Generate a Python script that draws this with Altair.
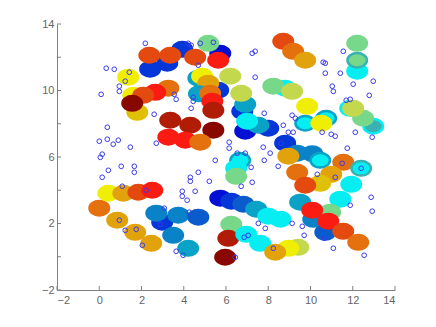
import altair as alt
import pandas as pd

# ---- large coloured markers (drawn back to front) ----
big_x = [2.41, 3.22, 3.93, 2.37, 3.36, 5.73, 4.54, 5.16, 5.63, 5.63, 4.69, 4.87, 6.20, 5.16, 3.27, 4.72,
         5.25, 5.35, 5.40, 1.37, 1.61, 1.80, 2.65, 2.08, 1.56, 3.36, 4.31, 5.40, 3.27, 4.07, 4.78,
         8.71, 9.18, 9.75, 8.80, 8.24, 9.13, 9.84, 9.75, 10.74, 10.51, 6.91, 6.77, 6.91, 6.72, 8.00,
         7.53, 7.00, 8.80, 9.37,
         12.21, 12.21, 12.21, 11.88, 12.97, 12.49, 12.02,
         0.00, 0.85, 1.70, 2.46, 0.43, 1.14, 1.85, 2.51,
         2.98, 2.70, 3.74, 4.69, 3.50, 4.21, 5.73, 6.25, 6.82, 7.43, 8.00, 8.57, 6.25, 6.11, 5.96,
         6.67, 6.48, 6.48, 6.96, 7.62, 9.42, 8.95, 8.33,
         10.08, 10.46, 11.55, 12.40, 8.95, 9.37, 10.98, 10.46, 9.75, 11.93, 11.41, 9.51, 10.13,
         10.93, 10.70, 10.08, 10.84, 11.55, 12.26]
big_y = [11.28, 11.64, 12.48, 12.12, 12.12, 12.24, 12.00, 12.84, 11.82, 10.02, 10.74, 10.86, 10.86, 10.44, 10.14, 9.80,
         9.83, 9.35, 8.81, 10.80, 9.71, 8.69, 9.89, 9.71, 9.23, 8.21, 7.91, 7.61, 7.19, 7.01, 6.89,
         12.96, 12.36, 11.82, 10.14, 10.26, 9.95, 9.05, 8.03, 8.33, 8.03, 7.55, 8.75, 9.17, 9.83, 7.73,
         7.91, 8.15, 6.83, 6.23,
         12.84, 11.16, 11.82, 8.93, 7.85, 8.33, 8.93,
         2.92, 2.20, 1.47, 0.81, 3.82, 3.82, 3.88, 4.00,
         2.08, 2.62, 2.50, 2.38, 1.29, 0.51, 3.52, 3.34, 3.16, 2.86, 2.44, 2.26, 1.95, 1.11, -0.03,
         5.80, 5.32, 4.84, 1.35, 0.81, 0.57, 0.51, 0.27,
         6.20, 5.80, 5.68, 5.32, 6.05, 5.08, 4.96, 4.42, 4.30, 4.36, 3.46, 3.28, 2.25,
         2.68, 1.47, 2.80, 2.14, 1.53, 0.87]
big_color = ["blue", "blue", "blue", "orangered", "orangered", "darkblue", "orangered", "green", "red", "blue",
             "teal", "yellow", "yellowgreen", "gold", "orange", "teal", "orange", "red", "darkred2", "yellow",
             "yellow", "gold2", "red", "orangered", "darkred", "darkred2", "darkred2", "darkred", "red", "red",
             "orange",
             "orangered", "orange", "gold", "cyan", "green", "yellowgreen", "yellow", "cyan", "cyan", "yellow",
             "darkblue", "blue", "teal", "yellowgreen", "blue", "teal", "cyan", "blue", "tealblue",
             "green", "cyan", "green", "cyan", "teal2", "green", "yellowgreen",
             "orange", "gold", "gold", "gold", "yellow", "gold", "orangered", "red",
             "blue", "tealblue", "tealblue", "blue2", "tealblue", "teal", "darkblue", "blue", "blue2", "teal",
             "cyan", "cyan", "green", "darkred2", "darkred",
             "cyan", "cyan", "green", "cyan", "cyan", "yellowgreen", "yellow", "gold",
             "tealblue", "cyan", "orange", "cyan", "gold", "orange", "gold", "gold2", "orangered", "cyan",
             "cyan", "teal", "tealblue", "green", "blue2", "red", "red", "orangered", "orange"]
# ring (edge) colour where it differs from the fill
big_edge = {38: "teal", 39: "teal", 52: "teal2", 54: "cyan", 80: "teal", 89: "teal", 91: "teal2"}

# ---- small open blue circles ----
small_x = [2.18, 4.21, 4.35, 4.78, 5.40, 4.69, 0.33, 0.71, 1.42, 1.23, 0.95, 0.95, 0.09, 3.55, 3.64, 4.45,
           4.45, 4.35, 2.60, 0.38, 0.00, 0.38, 0.66, 0.90, 1.47, 2.70, 0.14, 0.05, 6.15, 6.15,
           7.24, 7.38, 7.38, 10.60, 10.70, 10.70, 11.41, 11.55, 12.97, 12.02, 11.03, 11.08, 12.78, 11.69,
           11.88, 7.81, 9.13, 9.28, 8.71, 8.95, 9.18, 10.55, 10.98, 11.17, 12.12, 12.92, 11.74, 7.76, 8.09,
           8.61, 6.91,
           0.43, 1.04, 1.66, 1.66, 0.14, 1.09, 2.22, 3.08, 0.95, 1.23, 1.75, 2.04, 2.89, 3.64, 3.97, 3.93,
           3.93, 4.16, 4.54, 4.69, 4.31, 4.31, 5.21, 5.49, 4.26, 6.53,
           7.81, 8.47, 7.19, 7.24, 6.72, 9.13, 7.86, 7.53, 7.05, 6.86, 9.61, 9.70, 8.24, 6.44, 10.32,
           11.17, 12.40, 12.87, 12.92, 11.88, 11.08, 12.54, 10.65, 11.50]
small_y = [12.84, 12.84, 12.72, 12.84, 12.90, 11.52, 11.34, 11.28, 11.10, 10.56, 10.26, 9.95, 9.77, 9.77, 9.47,
           9.59, 9.35, 8.93, 8.57, 7.79, 6.95, 7.07, 6.77, 7.01, 6.59, 6.83, 6.17, 5.98, 6.89, 6.53,
           12.24, 12.36, 10.80, 11.70, 11.64, 11.04, 11.04, 12.36, 10.56, 10.38, 10.26, 9.95, 9.71, 9.41,
           9.47, 8.63, 8.51, 8.33, 7.91, 7.49, 7.49, 7.49, 7.37, 7.25, 7.49, 7.19, 6.53, 6.59, 6.23,
           6.83, 6.23,
           5.20, 5.44, 5.44, 5.08, 4.78, 4.24, 4.00, 2.92, 2.20, 1.59, 1.65, 0.69, 1.95, 0.33, 0.09, 3.94,
           3.64, 3.40, 3.94, 5.08, 4.78, 4.54, 4.54, 5.80, 2.68, 6.23,
           5.80, 5.44, 5.38, 4.48, 4.24, 2.01, 1.71, 2.01, 1.29, 1.17, 1.83, 1.29, 0.51, -0.03, 4.96,
           4.78, 5.32, 3.58, 2.74, 3.10, 0.51, 0.09, 1.11, 5.62]

tick_values = [-2, 0, 2, 4, 6, 8, 10, 12, 14]

palette = {
    "darkred": "#880800", "darkred2": "#b01c06", "red": "#fa1c12", "orangered": "#e44a10",
    "orange": "#e4700e", "gold": "#e2a20c", "gold2": "#e0c004", "yellow": "#f0ee04",
    "yellowgreen": "#c4d84e", "green": "#78d88a", "teal2": "#38b2b2", "cyan": "#06eef2",
    "teal": "#0aa2c6", "tealblue": "#0a82c8", "blue2": "#0a5ccc", "blue": "#0436d8",
    "darkblue": "#0410d4",
}

big = pd.DataFrame({
    "x": big_x, "y": big_y,
    "fill": [palette[c] for c in big_color],
    "edge": [palette[big_edge.get(i, c)] for i, c in enumerate(big_color)],
    "i": list(range(len(big_x))),
})
small = pd.DataFrame({"x": small_x, "y": small_y})

xs = alt.Scale(domain=[-2, 14], nice=False, zero=False)
ys = alt.Scale(domain=[-2, 14], nice=False, zero=False)
axis_common = dict(values=tick_values, ticks=False, grid=False, domainColor="#808080", domainWidth=1,
                   labelColor="#666666", labelFont="Liberation Sans", labelFontSize=11, title=None)

ellipse = ("M-1,0C-1,-0.41,-0.552,-0.74,0,-0.74C0.552,-0.74,1,-0.41,1,0"
           "C1,0.41,0.552,0.74,0,0.74C-0.552,0.74,-1,0.41,-1,0Z")

big_layer = alt.Chart(big).mark_point(filled=True, shape=ellipse, size=380, opacity=1,
                                      strokeWidth=2.5, strokeOpacity=1).encode(
    x=alt.X("x:Q", scale=xs, axis=alt.Axis(labelPadding=4, **axis_common)),
    y=alt.Y("y:Q", scale=ys, axis=alt.Axis(labelPadding=3, **axis_common)),
    fill=alt.Fill("fill:N", scale=None),
    stroke=alt.Stroke("edge:N", scale=None),
    order=alt.Order("i:Q"),
)

small_layer = alt.Chart(small).mark_point(shape="circle", size=22, filled=False,
                                          color="#3a3aee", strokeWidth=1, opacity=1).encode(
    x=alt.X("x:Q", scale=xs), y=alt.Y("y:Q", scale=ys),
)

xt = pd.DataFrame({"t": tick_values, "b": [-2] * len(tick_values), "b2": [-1.76] * len(tick_values)})
yt = pd.DataFrame({"t": tick_values, "b": [-2] * len(tick_values), "b2": [-1.81] * len(tick_values)})

xticks = alt.Chart(xt).mark_rule(color="#808080", strokeWidth=1).encode(
    x=alt.X("t:Q", scale=xs), y=alt.Y("b:Q", scale=ys), y2="b2:Q")
yticks = alt.Chart(yt).mark_rule(color="#808080", strokeWidth=1).encode(
    y=alt.Y("t:Q", scale=ys), x=alt.X("b:Q", scale=xs), x2="b2:Q")

chart = alt.layer(big_layer, small_layer, xticks, yticks).properties(
    width=338, height=266,
    autosize="none",
    padding={"left": 49, "top": 16, "right": 30, "bottom": 30},
).configure_view(stroke=None)

chart.save("out.html", embed_options={"renderer": "svg", "actions": False})
